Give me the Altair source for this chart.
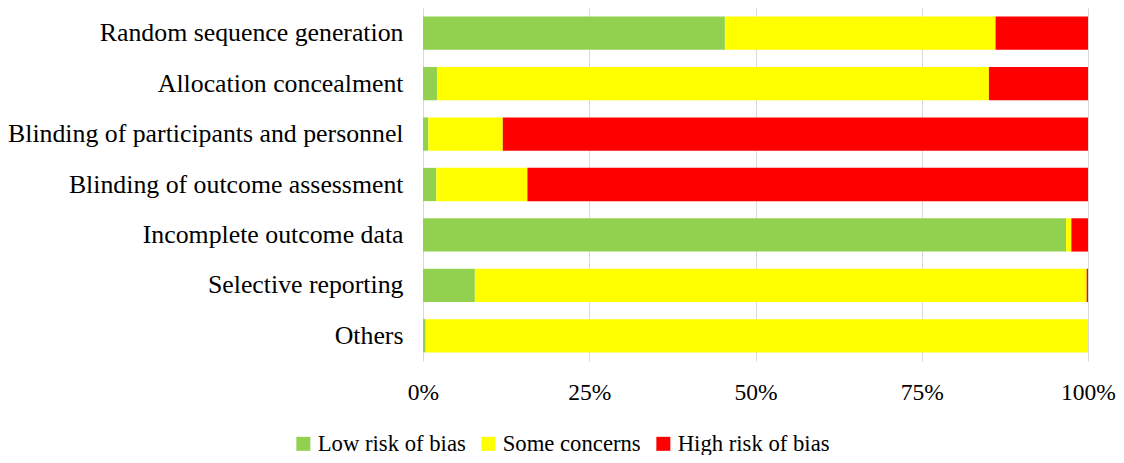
import altair as alt
import pandas as pd

categories = [
    "Random sequence generation",
    "Allocation concealment",
    "Blinding of participants and personnel",
    "Blinding of outcome assessment",
    "Incomplete outcome data",
    "Selective reporting",
    "Others",
]
low_risk = [45.4, 2.1, 0.8, 2.0, 96.7, 7.8, 0.4]
some_concerns = [40.7, 83.0, 11.2, 13.7, 0.8, 92.0, 99.6]
high_risk = [13.9, 14.9, 88.0, 84.3, 2.5, 0.2, 0.0]

series = ["Low risk of bias", "Some concerns", "High risk of bias"]
colors = ["#92D050", "#FFFF00", "#FF0000"]

rows = []
for i, c in enumerate(categories):
    for j, (s, vals) in enumerate(zip(series, [low_risk, some_concerns, high_risk])):
        rows.append({"category": c, "series": s, "value": vals[i] / 100.0, "order": j})
df = pd.DataFrame(rows)

FONT = "Liberation Serif"

chart = (
    alt.Chart(df)
    .mark_bar()
    .encode(
        x=alt.X(
            "value:Q",
            stack="zero",
            scale=alt.Scale(domain=[0, 1], nice=False),
            axis=alt.Axis(
                values=[0, 0.25, 0.5, 0.75, 1],
                format="%",
                title=None,
                domain=False,
                ticks=False,
                grid=True,
                gridColor="#d9d9d9",
                gridWidth=1,
                labelFont=FONT,
                labelFontSize=23.5,
                labelColor="#000000",
                labelPadding=19,
                labelFlush=False,
            ),
        ),
        y=alt.Y(
            "category:N",
            sort=categories,
            scale=alt.Scale(paddingInner=0.34, paddingOuter=0.17),
            axis=alt.Axis(
                title=None,
                domain=False,
                ticks=False,
                labelFont=FONT,
                labelFontSize=25.8,
                labelColor="#000000",
                labelPadding=20,
                labelLimit=600,
            ),
        ),
        color=alt.Color(
            "series:N",
            sort=series,
            scale=alt.Scale(domain=series, range=colors),
            legend=alt.Legend(
                title=None,
                orient="none",
                legendX=-131,
                legendY=424,
                direction="horizontal",
                columns=3,
                symbolType="square",
                symbolSize=196,
                symbolStrokeWidth=0,
                labelFont=FONT,
                labelFontSize=22.7,
                labelColor="#000000",
                labelOffset=3,
                columnPadding=11,
                labelLimit=400,
            ),
        ),
        order=alt.Order("order:Q", sort="ascending"),
    )
    .properties(
        width=665,
        height=353,
        autosize=alt.AutoSizeParams(type="none"),
        padding={"left": 415, "top": 0, "right": 28, "bottom": 94},
    )
    .configure(font=FONT)
    .configure_view(stroke=None)
)

chart.save("out.html", embed_options={"renderer": "svg", "actions": False})
